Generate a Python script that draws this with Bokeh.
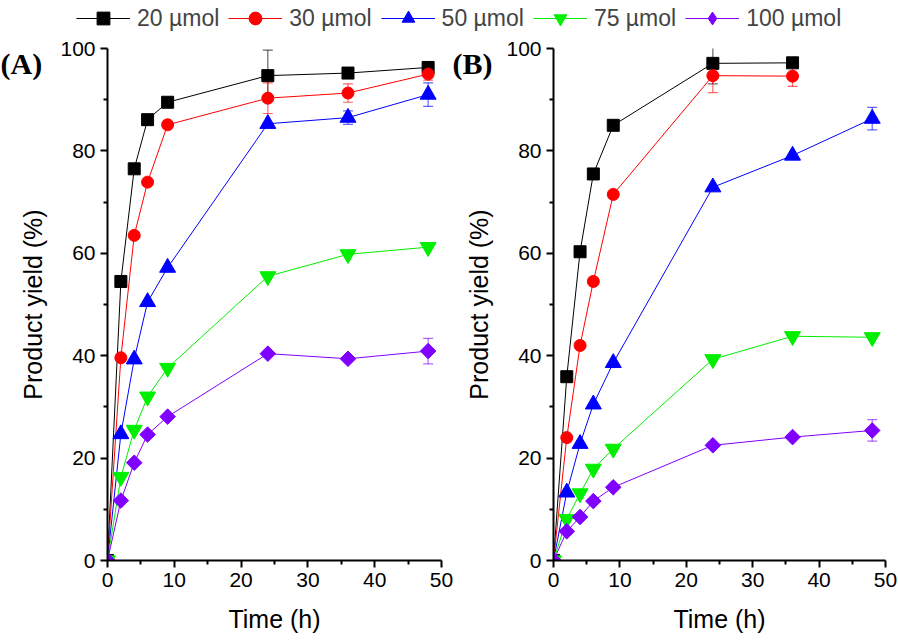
import math
from bokeh.plotting import figure
from bokeh.layouts import column, row
from bokeh.models import (ColumnDataSource, Whisker, TeeHead, Legend,
                          LegendItem, FixedTicker, Range1d, Title)
from bokeh.embed import file_html
from bokeh.resources import INLINE

NAN = float("nan")

# ---------------- data ----------------
times = [0, 2, 4, 6, 9, 24, 36, 48]
series_names = ["20 µmol", "30 µmol", "50 µmol", "75 µmol", "100 µmol"]

a20 = [0, 54.5, 76.5, 86.1, 89.5, 94.7, 95.2, 96.3]
a30 = [0, 39.6, 63.5, 73.9, 85.1, 90.3, 91.3, 95.0]
a50 = [0, 24.7, 39.3, 50.5, 57.2, 85.3, 86.5, 91.0]
a75 = [0, 16.3, 25.5, 32.0, 37.6, 55.5, 59.8, 61.2]
a100 = [0, 11.7, 19.1, 24.6, 28.1, 40.4, 39.4, 40.9]

a20_err = [0, 0, 0, 0, 0, 5.0, 0, 0.6]
a30_err = [0, 0, 0, 0, 0, 3.0, 1.8, 1.2]
a50_err = [0, 0, 0, 0, 0, 0, 1.3, 2.3]
a75_err = [0, 0, 0, 0, 0, 0, 0, 0]
a100_err = [0, 0, 0, 0, 0, 0, 0, 2.5]

b20 = [0, 35.9, 60.3, 75.5, 85.0, 97.1, 97.2, NAN]
b30 = [0, 24.0, 42.0, 54.5, 71.5, 94.7, 94.6, NAN]
b50 = [0, 13.3, 22.8, 30.5, 38.6, 72.9, 79.1, 86.3]
b75 = [0, 8.1, 13.1, 17.9, 21.8, 39.3, 43.8, 43.6]
b100 = [0, 5.7, 8.5, 11.6, 14.3, 22.5, 24.1, 25.4]

b20_err = [0, 0, 0, 0, 0, 4.0, 0, 0]
b30_err = [0, 0, 0, 0, 0, 3.3, 2.0, 0]
b50_err = [0, 0, 0, 0, 0, 0, 0, 2.2]
b75_err = [0, 0, 0, 0, 0, 0, 0, 0]
b100_err = [0, 0, 0, 0, 0, 0, 0, 2.1]

x_ticks = [0, 10, 20, 30, 40, 50]
x_minor = [5, 15, 25, 35, 45]
y_ticks = [0, 20, 40, 60, 80, 100]
y_minor = [10, 30, 50, 70, 90]

# ---------------- styles ----------------
colors = ["#000000", "#FF0000", "#0000FF", "#00EE00", "#8000FF"]
markers = ["square", "circle", "triangle", "inverted_triangle", "square"]
legend_markers = ["square", "circle", "triangle", "inverted_triangle", "diamond"]
sizes = [12, 12, 16, 16, 11]
angles = [0, 0, 0, 0, math.pi / 4]
FONT = "Liberation Sans"


def make_panel(ys, errs, width, left, right, tag, tag_offset):
    p = figure(width=width, height=606, output_backend="svg", toolbar_location=None,
               x_range=Range1d(0, 50), y_range=Range1d(0, 100),
               min_border_left=left, min_border_right=right,
               min_border_top=13, min_border_bottom=81)
    p.title = Title(text=tag, align="left", offset=tag_offset, standoff=-62,
                    vertical_align="bottom", text_font="Liberation Serif",
                    text_font_style="bold", text_font_size="30px", text_color="black")
    p.outline_line_color = None
    p.xgrid.visible = False
    p.ygrid.visible = False
    p.xaxis.ticker = FixedTicker(ticks=x_ticks, minor_ticks=x_minor)
    p.yaxis.ticker = FixedTicker(ticks=y_ticks, minor_ticks=y_minor)
    p.xaxis.axis_label = "Time (h)"
    p.yaxis.axis_label = "Product yield (%)"
    for ax in (p.xaxis, p.yaxis):
        ax.axis_line_width = 2
        ax.major_tick_line_width = 2
        ax.minor_tick_line_width = 2
        ax.major_tick_out = 7
        ax.major_tick_in = 0
        ax.minor_tick_out = 4
        ax.minor_tick_in = 0
        ax.major_label_text_font = FONT
        ax.major_label_text_font_size = "21px"
        ax.major_label_text_color = "black"
        ax.axis_label_text_font = FONT
        ax.axis_label_text_font_size = "25px"
        ax.axis_label_text_font_style = "normal"
        ax.axis_label_text_color = "black"
    p.xaxis.major_label_standoff = 5
    p.xaxis.axis_label_standoff = 15
    p.yaxis.major_label_standoff = 5
    p.yaxis.axis_label_standoff = 10

    for y, e, c, m, s, a in zip(ys, errs, colors, markers, sizes, angles):
        xs_e = [t for t, v in zip(times, e) if v > 0]
        up = [yy + v for yy, v in zip(y, e) if v > 0]
        lo = [yy - v for yy, v in zip(y, e) if v > 0]
        if xs_e:
            es = ColumnDataSource(dict(x=xs_e, upper=up, lower=lo))
            w = Whisker(source=es, base="x", upper="upper", lower="lower",
                        dimension="height", line_color=c, line_alpha=0.6, line_width=1.2,
                        upper_head=TeeHead(size=10, line_color=c, line_alpha=0.6, line_width=1.2),
                        lower_head=TeeHead(size=10, line_color=c, line_alpha=0.6, line_width=1.2))
            p.add_layout(w)
        src = ColumnDataSource(dict(x=times, y=y))
        p.line("x", "y", source=src, line_color=c, line_width=1)
        p.scatter("x", "y", source=src, marker=m, size=s, angle=a,
                  fill_color=c, line_color=c)
    return p


pA = make_panel([a20, a30, a50, a75, a100],
                [a20_err, a30_err, a50_err, a75_err, a100_err],
                453, 107, 12, "(A)", -107)
pB = make_panel([b20, b30, b50, b75, b100],
                [b20_err, b30_err, b50_err, b75_err, b100_err],
                445, 100, 13, "(B)", -101)

# ---------------- legend strip ----------------
leg = figure(width=898, height=35, output_backend="svg", toolbar_location=None,
             x_axis_location=None, y_axis_location=None,
             min_border_left=0, min_border_right=0, min_border_top=0, min_border_bottom=0,
             x_range=Range1d(0, 1), y_range=Range1d(0, 1))
leg.outline_line_color = None
leg.xgrid.visible = False
leg.ygrid.visible = False
items = []
for name, c, m, s in zip(series_names, colors, legend_markers, sizes):
    es = ColumnDataSource(dict(x=[-5], y=[-5]))
    r1 = leg.line("x", "y", source=es, line_color=c, line_width=1)
    r2 = leg.scatter("x", "y", source=es, marker=m, size=s,
                     fill_color=c, line_color=c)
    items.append(LegendItem(label=name, renderers=[r1, r2]))
legend = Legend(items=items, orientation="horizontal", location=(76, 1),
                label_text_font=FONT, label_text_font_size="23px",
                glyph_width=54, glyph_height=32, label_standoff=7, spacing=9,
                padding=0, margin=0, border_line_color=None,
                background_fill_alpha=0)
leg.add_layout(legend)

layout = column(leg, row(pA, pB))
open("out.html", "w").write(file_html(layout, INLINE))
